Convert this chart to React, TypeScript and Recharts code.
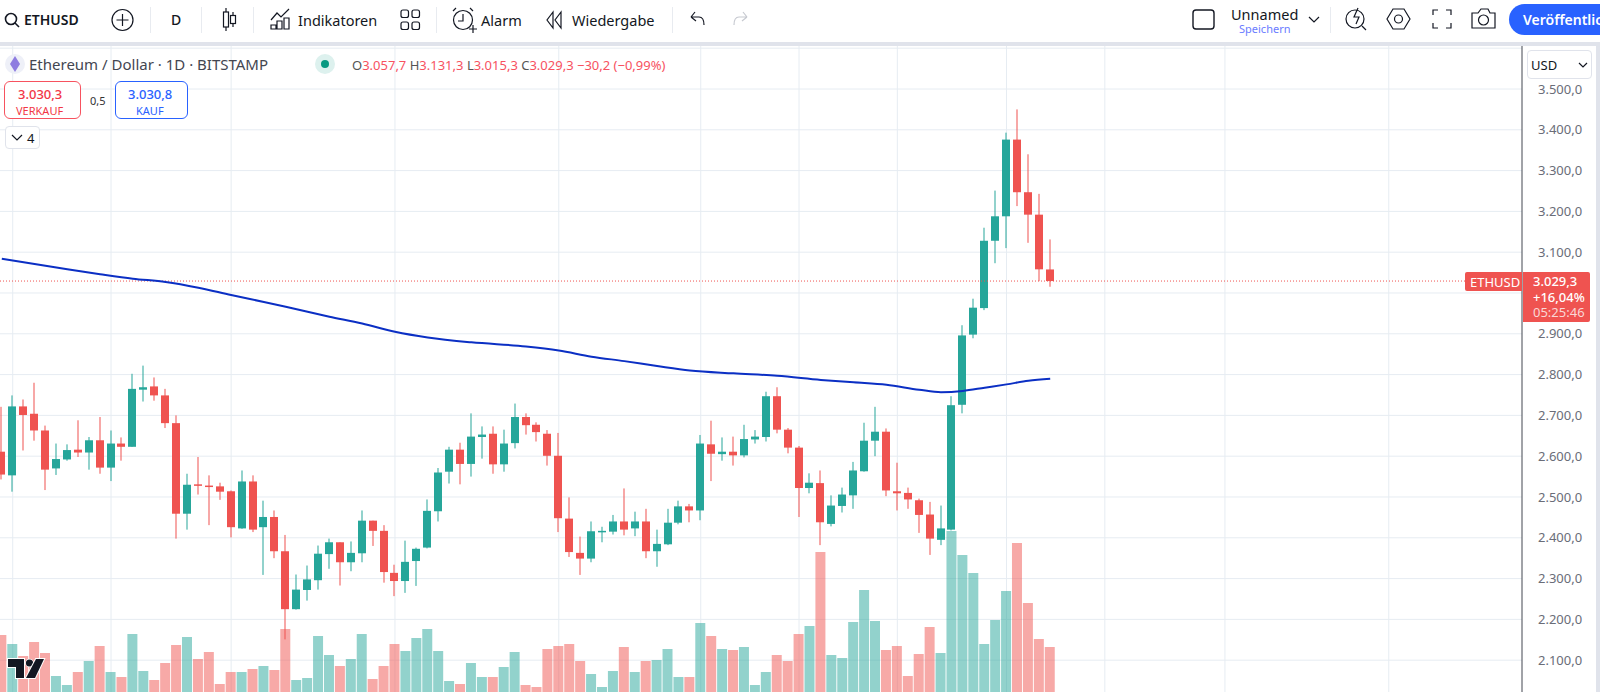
import {
  Bar,
  CartesianGrid,
  Cell,
  ComposedChart,
  Line,
  ReferenceLine,
  XAxis,
  YAxis,
} from 'recharts';

const opens = [
  2611, 2553, 2722, 2704, 2663, 2570, 2592, 2616, 2609, 2639, 2572, 2631, 2623, 2763, 2771, 2749, 2681, 2459, 2531, 2528,
  2526, 2514, 2423, 2538, 2426, 2451, 2367, 2225, 2272, 2296, 2360, 2389, 2340, 2362, 2442, 2417, 2314, 2294, 2343, 2376,
  2465, 2562, 2616, 2581, 2647, 2655, 2580, 2632, 2696, 2677, 2655, 2601, 2447, 2363, 2349, 2415, 2415, 2440, 2423, 2440,
  2367, 2384, 2437, 2477, 2467, 2629, 2605, 2611, 2602, 2641, 2647, 2747, 2665, 2621, 2522, 2534, 2434, 2478, 2504, 2563,
  2638, 2660, 2514, 2510, 2492, 2457, 2395, 2420, 2726, 2898, 2963, 3128, 3188, 3376, 3247, 3192, 3057.7,
];
const highs = [
  2721, 2749, 2739, 2780, 2675, 2631, 2629, 2688, 2647, 2696, 2663, 2646, 2802, 2822, 2793, 2765, 2700, 2557, 2598, 2553,
  2535, 2516, 2565, 2553, 2491, 2467, 2407, 2310, 2332, 2381, 2398, 2389, 2391, 2467, 2442, 2431, 2334, 2393, 2376, 2494,
  2571, 2623, 2633, 2705, 2673, 2673, 2665, 2729, 2705, 2683, 2664, 2657, 2499, 2403, 2440, 2427, 2456, 2521, 2464, 2471,
  2420, 2471, 2491, 2483, 2652, 2687, 2646, 2648, 2677, 2664, 2758, 2769, 2669, 2625, 2558, 2565, 2504, 2523, 2586, 2682,
  2721, 2668, 2584, 2523, 2496, 2488, 2479, 2747, 2921, 2986, 3160, 3251, 3393, 3450, 3340, 3243, 3131.3,
];
const lows = [
  2543, 2513, 2614, 2638, 2517, 2554, 2589, 2598, 2567, 2557, 2539, 2589, 2623, 2734, 2736, 2669, 2398, 2420, 2506, 2431,
  2493, 2401, 2422, 2414, 2309, 2350, 2151, 2224, 2246, 2273, 2324, 2283, 2318, 2340, 2380, 2290, 2257, 2265, 2282, 2374,
  2440, 2533, 2531, 2550, 2594, 2557, 2562, 2619, 2653, 2636, 2577, 2414, 2353, 2309, 2340, 2389, 2408, 2406, 2404, 2350,
  2329, 2382, 2433, 2438, 2443, 2539, 2589, 2577, 2597, 2631, 2636, 2656, 2607, 2451, 2509, 2382, 2428, 2462, 2471, 2562,
  2600, 2502, 2467, 2471, 2412, 2358, 2382, 2418, 2705, 2889, 2958, 3073, 3110, 3213, 3123, 3029, 3015.3,
];
const closes = [
  2555, 2722, 2701, 2663, 2567, 2593, 2615, 2609, 2639, 2572, 2631, 2623, 2765, 2769, 2749, 2681, 2459, 2530, 2529, 2526,
  2513, 2426, 2538, 2420, 2451, 2367, 2225, 2273, 2298, 2361, 2389, 2340, 2363, 2442, 2417, 2316, 2294, 2341, 2373, 2466,
  2560, 2616, 2581, 2648, 2653, 2580, 2631, 2696, 2676, 2659, 2601, 2448, 2365, 2349, 2416, 2417, 2440, 2420, 2440, 2367,
  2385, 2437, 2477, 2467, 2631, 2606, 2611, 2602, 2642, 2648, 2747, 2665, 2621, 2522, 2535, 2438, 2479, 2506, 2565, 2638,
  2660, 2516, 2509, 2494, 2456, 2398, 2423, 2725, 2896, 2964, 3128, 3188, 3376, 3247, 3192, 3058, 3029.3,
];
// volume in arbitrary units, the original axis is hidden
const volumes = [
  57, 48, 36, 50, 39, 16, 7, 20, 31, 46, 20, 15, 58, 21, 12, 29, 47, 55, 33, 40,
  8, 20, 20, 23, 26, 22, 63, 12, 14, 56, 37, 26, 33, 58, 13, 26, 48, 41, 54, 63,
  41, 11, 8, 29, 15, 15, 25, 40, 7, 5, 43, 46, 48, 31, 18, 5, 21, 45, 20, 31,
  32, 43, 15, 15, 69, 56, 43, 42, 45, 7, 20, 37, 31, 58, 66, 140, 37, 34, 70, 102,
  71, 42, 46, 16, 38, 65, 39, 161, 137, 119, 48, 72, 101, 149, 89, 53, 45,
];
// moving average, read at a handful of candles
const maIndex = [0, 3, 6, 9, 12, 15, 18, 21, 24, 27, 30, 33, 36, 39, 43, 48, 51, 54, 57, 60, 63, 67, 71, 75, 78, 81, 84, 86, 88, 90, 92, 94, 96];
const maValues = [3084, 3071, 3058, 3046, 3035, 3027, 3013, 2995, 2978, 2960, 2942, 2925, 2905, 2891, 2879, 2869, 2859, 2844, 2833, 2821, 2810, 2803, 2797, 2787, 2781, 2775, 2763, 2757, 2760, 2768, 2776, 2785, 2790];

const priceTicks = [2100, 2200, 2300, 2400, 2500, 2600, 2700, 2800, 2900, 3000, 3100, 3200, 3300, 3400, 3500];
const gridPrices = [...priceTicks, 3600];
const gridCandles = [1, 10, 21, 36, 51, 64, 73, 82, 92, 101, 112, 127];

const rows = opens.map((open, i) => ({
  index: i,
  open,
  high: highs[i],
  low: lows[i],
  close: closes[i],
  range: [lows[i], highs[i]],
  volume: volumes[i],
  ma: maIndex.includes(i) ? maValues[maIndex.indexOf(i)] : null,
}));

const UP = '#26A69A';
const DOWN = '#EF5350';
const FONT = '"Noto Sans", sans-serif';

const formatPrice = (v: number) => v.toLocaleString('de-DE', { minimumFractionDigits: 1 });

function Candle(props: any) {
  const { x, y, width, height, payload } = props;
  const color = payload.close >= payload.open ? UP : DOWN;
  const unit = height / (payload.high - payload.low);
  const top = y + (payload.high - Math.max(payload.open, payload.close)) * unit;
  const bodyH = Math.abs(payload.close - payload.open) * unit;
  const mid = Math.round(x + width / 2);
  return (
    <g>
      <rect x={mid - 0.5} y={y} width={1} height={height} fill={color} />
      <rect x={mid - 4} y={top} width={8} height={Math.max(bodyH, 1.5)} fill={color} />
    </g>
  );
}

function Txt({ x, y, size = 14, color = '#131722', weight = 400, spacing = 0, children }: any) {
  return (
    <div
      style={{
        position: 'absolute',
        left: x,
        top: y,
        transform: 'translateY(-50%)',
        fontSize: size,
        color,
        fontWeight: weight,
        letterSpacing: spacing,
        fontFamily: FONT,
        whiteSpace: 'nowrap',
        lineHeight: 1,
      }}
    >
      {children}
    </div>
  );
}

function Sep({ x }: { x: number }) {
  return <div style={{ position: 'absolute', left: x, top: 7, width: 1, height: 26, background: '#E8EBF0' }} />;
}

function Box({ x, y, w, h, border, radius = 6, bg = '#fff' }: any) {
  return (
    <div
      style={{
        position: 'absolute',
        left: x,
        top: y,
        width: w,
        height: h,
        boxSizing: 'border-box',
        border: `1px solid ${border}`,
        borderRadius: radius,
        background: bg,
      }}
    />
  );
}

function Icons() {
  const s = { fill: 'none', stroke: '#131722', strokeWidth: 1.2 };
  return (
    <svg width={1600} height={46} style={{ position: 'absolute', left: 0, top: 0 }}>
      {/* search */}
      <circle cx={11} cy={19} r={5.5} {...s} strokeWidth={1.6} />
      <path d="M15 23 L19 27" {...s} strokeWidth={1.6} />
      {/* add symbol */}
      <circle cx={122.5} cy={20} r={10.5} {...s} />
      <path d="M122.5 14 V26 M116.5 20 H128.5" {...s} />
      {/* candles */}
      <path d="M226 8 V31 M233 12 V27" {...s} />
      <rect x={223.5} y={12} width={5} height={15} fill="#fff" stroke="#131722" strokeWidth={1.2} />
      <rect x={230.5} y={15.5} width={5} height={8} fill="#fff" stroke="#131722" strokeWidth={1.2} />
      {/* indicators */}
      <path d="M271 20 L277 13 L281 17 L289 9" {...s} />
      <path d="M271 29 V25 H276 V29 Z M277 29 V21 H282 V29 Z M284 29 V18 H289 V29 Z" {...s} />
      {/* layouts */}
      <rect x={401} y={10} width={7.5} height={7.5} rx={2} {...s} />
      <rect x={412} y={10} width={7.5} height={7.5} rx={2} {...s} />
      <rect x={401} y={22} width={7.5} height={7.5} rx={2} {...s} />
      <rect x={412} y={22} width={7.5} height={7.5} rx={2} {...s} />
      {/* alarm */}
      <circle cx={463} cy={20} r={9.5} {...s} />
      <path d="M463 14 V21 H458 M453 11 L456 8 M473 11 L470 8 M469 29 H477 M473 25 V33" {...s} />
      {/* replay */}
      <path d="M553 12 L547 20 L553 28 Z M561 12 L555 20 L561 28 Z" {...s} />
      {/* undo, redo */}
      <path d="M691 17 L695 12 M691 17 L696 21 M691 17 H699 Q704 17 704 25" {...s} />
      <path d="M747 17 L743 12 M747 17 L742 21 M747 17 H739 Q734 17 734 25" {...s} stroke="#C6C9D0" />
      {/* right hand icons */}
      <rect x={1193} y={10} width={21} height={19} rx={3} {...s} strokeWidth={1.4} />
      <path d="M1309 17 L1314 22 L1319 17" {...s} />
      <circle cx={1355} cy={19} r={9} {...s} />
      <path d="M1362 26 L1366 30 M1358 8 L1354 17 H1359 L1356 24" {...s} />
      <path d="M1387 19 L1393 9 H1404 L1410 19 L1404 29 H1393 Z" {...s} />
      <circle cx={1398.5} cy={19} r={4} {...s} />
      <path d="M1433 15 V10 H1438 M1446 10 H1451 V15 M1451 23 V28 H1446 M1438 28 H1433 V23" {...s} />
      <path d="M1472 13 H1478 L1481 9 H1488 L1490 13 H1495 V28 H1472 Z" {...s} />
      <circle cx={1483.5} cy={20} r={5} {...s} />
    </svg>
  );
}

function Logo() {
  return (
    <svg width={42} height={26} style={{ position: 'absolute', left: 5, top: 655 }}>
      <path d="M3 4 H19 V23 H11 V12 H3 Z" fill="#131722" stroke="#fff" strokeWidth={2} paintOrder="stroke" />
      <circle cx={24.5} cy={8} r={3.6} fill="#131722" stroke="#fff" strokeWidth={1.5} paintOrder="stroke" />
      <path d="M31 4 H39 L30 23 H21 Z" fill="#131722" stroke="#fff" strokeWidth={2} paintOrder="stroke" />
    </svg>
  );
}

export default function App() {
  return (
    <div style={{ position: 'absolute', left: 0, top: 0, width: 1600, height: 692, overflow: 'hidden', background: '#fff' }}>
      <ComposedChart width={1600} height={692} data={rows} margin={{ top: 46, right: 0, bottom: 0, left: 0 }}>
        <CartesianGrid
          xAxisId="candle"
          yAxisId="price"
          stroke="#E6ECF2"
          horizontalValues={gridPrices}
          verticalValues={gridCandles}
        />
        <XAxis xAxisId="candle" type="number" dataKey="index" domain={[-0.165, 139.2]} hide />
        <XAxis xAxisId="vol" type="number" dataKey="index" domain={[-0.165, 139.2]} hide />
        <YAxis
          yAxisId="price"
          orientation="right"
          width={78}
          domain={[2022, 3605.4]}
          ticks={priceTicks}
          tickFormatter={formatPrice}
          tickLine={false}
          tickMargin={10}
          interval={0}
          axisLine={{ stroke: '#434651' }}
          tick={{ fill: '#6A6D78', fontSize: 13, fontFamily: FONT }}
        />
        <YAxis yAxisId="vol" domain={[0, 646]} hide />
        <Bar xAxisId="vol" yAxisId="vol" dataKey="volume" barSize={10} isAnimationActive={false}>
          {rows.map((r) => (
            <Cell key={r.index} fill={r.close >= r.open ? UP : DOWN} fillOpacity={0.5} />
          ))}
        </Bar>
        <ReferenceLine xAxisId="candle" yAxisId="price" y={3029.3} stroke={DOWN} strokeDasharray="1 2" />
        <Bar xAxisId="candle" yAxisId="price" dataKey="range" barSize={8} shape={Candle} isAnimationActive={false} />
        <Line
          xAxisId="candle"
          yAxisId="price"
          dataKey="ma"
          type="monotone"
          connectNulls
          dot={false}
          stroke="#0B2FC4"
          strokeWidth={2}
          isAnimationActive={false}
        />
      </ComposedChart>

      {/* toolbar */}
      <div style={{ position: 'absolute', left: 0, top: 0, width: 1600, height: 42, background: '#fff' }} />
      <div style={{ position: 'absolute', left: 0, top: 42, width: 1600, height: 4, background: '#E0E3EB' }} />
      <div style={{ position: 'absolute', left: 1596, top: 42, width: 4, height: 650, background: '#E0E3EB' }} />
      <Icons />
      <Txt x={24} y={20} weight={600} size={14}>ETHUSD</Txt>
      <Sep x={150} />
      <Txt x={171} y={20} size={14} weight={500}>D</Txt>
      <Sep x={201} />
      <Sep x={253} />
      <Txt x={298} y={20} size={14.5}>Indikatoren</Txt>
      <Sep x={436} />
      <Txt x={481} y={20} size={14.5}>Alarm</Txt>
      <Txt x={572} y={20} size={14.5}>Wiedergabe</Txt>
      <Sep x={672} />
      <Txt x={1231} y={14} size={14.5}>Unnamed</Txt>
      <Txt x={1239} y={28} size={11} color="#6A7CFF">Speichern</Txt>
      <Sep x={1330} />
      <div style={{ position: 'absolute', left: 1509, top: 4, width: 120, height: 31, borderRadius: 16, background: '#2962FF' }} />
      <Txt x={1523} y={20} size={14} weight={600} color="#fff">Veröffentlichen</Txt>

      {/* legend */}
      <svg width={30} height={24} style={{ position: 'absolute', left: 3, top: 52 }}>
        <circle cx={12} cy={12} r={10} fill="#EEF0F8" />
        <path d="M12 4 L17 12 L12 20 L7 12 Z" fill="#8E7CE0" />
      </svg>
      <Txt x={29} y={64} size={15} color="#434651">Ethereum / Dollar · 1D · BITSTAMP</Txt>
      <svg width={22} height={22} style={{ position: 'absolute', left: 314, top: 53 }}>
        <circle cx={11} cy={11} r={10} fill="#DDF1EE" />
        <circle cx={11} cy={11} r={4} fill="#089981" />
      </svg>
      <div style={{ position: 'absolute', left: 352, top: 57, fontSize: 13, fontFamily: FONT, whiteSpace: 'nowrap', color: '#F7525F', lineHeight: '16px' }}>
        <span style={{ color: '#555' }}>O</span>3.057,7 <span style={{ color: '#555' }}>H</span>3.131,3{' '}
        <span style={{ color: '#555' }}>L</span>3.015,3 <span style={{ color: '#555' }}>C</span>3.029,3 −30,2 (−0,99%)
      </div>

      {/* buy and sell */}
      <Box x={4} y={81} w={77} h={38} border="#F7525F" />
      <Txt x={18} y={94} size={13} color="#F23645" weight={500}>3.030,3</Txt>
      <Txt x={16} y={110} size={11} color="#F23645">VERKAUF</Txt>
      <Txt x={90} y={100} size={11} color="#333">0,5</Txt>
      <Box x={115} y={81} w={73} h={38} border="#2962FF" />
      <Txt x={128} y={94} size={13} color="#2962FF" weight={500}>3.030,8</Txt>
      <Txt x={136} y={110} size={11} color="#2962FF">KAUF</Txt>
      <Box x={5} y={126} w={35} h={23} border="#E0E3EB" radius={4} />
      <svg width={12} height={8} style={{ position: 'absolute', left: 11, top: 134 }}>
        <path d="M1 1 L6 6 L11 1" fill="none" stroke="#131722" strokeWidth={1.2} />
      </svg>
      <Txt x={27} y={138} size={13}>4</Txt>

      {/* currency selector */}
      <Box x={1527} y={50} w={65} h={29} border="#E0E3EB" radius={4} />
      <Txt x={1531} y={65} size={13}>USD</Txt>
      <svg width={10} height={6} style={{ position: 'absolute', left: 1578, top: 62 }}>
        <path d="M1 1 L5 5 L9 1" fill="none" stroke="#131722" strokeWidth={1.2} />
      </svg>

      {/* last price */}
      <div style={{ position: 'absolute', left: 1465, top: 272, width: 57, height: 19, background: DOWN, borderRadius: '2px 0 0 2px' }} />
      <Txt x={1470} y={282} size={13} color="#fff">ETHUSD</Txt>
      <div style={{ position: 'absolute', left: 1523, top: 272, width: 67, height: 50, background: DOWN, borderRadius: '0 2px 2px 0' }} />
      <Txt x={1533} y={281} size={13} color="#fff" weight={500}>3.029,3</Txt>
      <Txt x={1533} y={297} size={13} color="#fff" weight={500}>+16,04%</Txt>
      <Txt x={1533} y={312} size={13} color="#FAD7D6">05:25:46</Txt>

      <Logo />
    </div>
  );
}
